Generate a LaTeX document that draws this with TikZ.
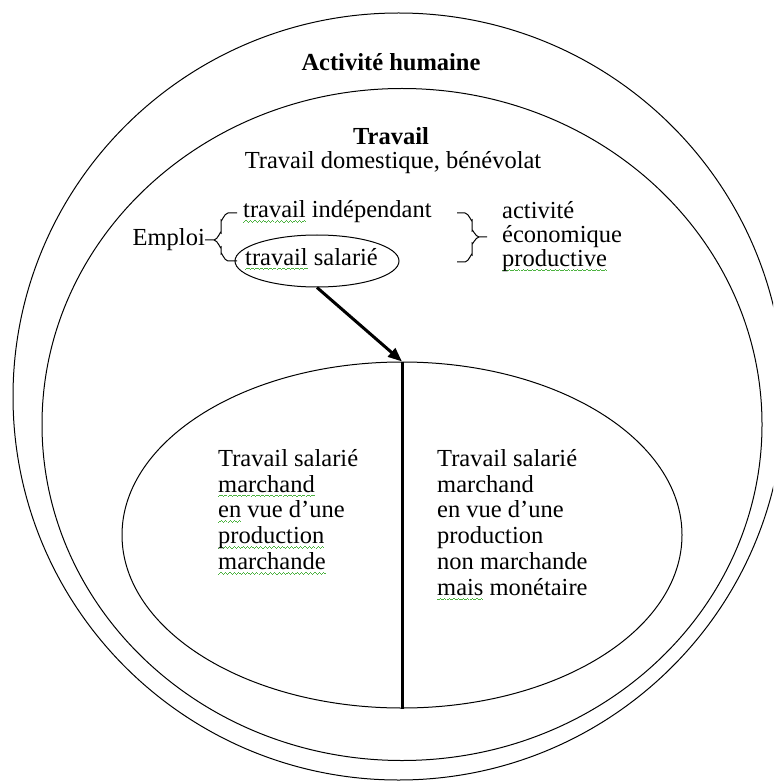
\documentclass[tikz,border=0pt]{standalone}
\usepackage{fontspec}
\setmainfont{Liberation Serif}
\usetikzlibrary{shapes.geometric,arrows.meta}
\definecolor{spellgreen}{rgb}{0.30,0.70,0.25}
\newsavebox\spellbox
\newcommand\spell[1]{\sbox\spellbox{#1}\rlap{\hbox to\wd\spellbox{\color{spellgreen}\xleaders\hbox{\rule[-5pt]{1.1pt}{.9pt}\rule[-4.2pt]{1.1pt}{.9pt}\rule[-3.4pt]{1.1pt}{.9pt}\rule[-4.2pt]{1.1pt}{.9pt}}\hfill}}\usebox\spellbox}
\tikzset{
	txt/.style={inner sep=0pt, font=\fontsize{24.5}{25.8}\selectfont},
	boldtxt/.style={inner sep=0pt, font=\fontsize{24.5}{25.8}\selectfont\bfseries},
	ring/.style={line width=1pt},
	thickline/.style={line width=3pt},
}

\begin{document}
\begin{tikzpicture}[x=1pt,y=-1pt]
				%%%%% START %%%%%
				\useasboundingbox (0,0) rectangle (773,783);
				\clip (0,0) rectangle (773,783);
				
				\draw[ring] (398.6,396.5) ellipse (385.6 and 383.5);
				\draw[ring] (402,424.5) ellipse (360 and 336);
				
				\node[boldtxt] (hum) at (391,62) {Activité humaine};
				\node[boldtxt] (trav) at (391,136) {Travail};
				\node[txt] (dom) at (393,163) {Travail domestique, bénévolat};
				
				\node[txt, anchor=east] (emp) at (205,240) {Emploi};
				\node[txt, anchor=west] (ind) at (243,212) {\spell{travail} indépendant};
				\node[draw, ring, ellipse, inner sep=0pt, minimum width=164pt, minimum height=52pt] (sal) at (317,261) {};
				\node[txt, anchor=west] (salt) at (245,259) {\spell{travail} salarié};
				
				\draw[ring] (237,213) -- (228,213) to[out=180,in=-90] (221,220) -- (221,233) to[out=90,in=0] (214,240) -- (205,240);
				\draw[ring] (214,240) to[out=0,in=-90] (221,247) -- (221,254) to[out=90,in=180] (228,261) -- (237,261);
				
				\draw[ring] (457,213) -- (465,213) to[out=0,in=-90] (472,220) -- (472,231) to[out=90,in=180] (479,237) -- (487,237);
				\draw[ring] (479,237) to[out=180,in=-90] (472,243) -- (472,255) to[out=90,in=0] (465,262) -- (457,262);
				
				\node[txt, anchor=north west, align=left, font=\fontsize{24.5}{24}\selectfont] (eco) at (502,201) {activité\\ économique\\ \spell{productive}};
				
				\node[draw, ring, ellipse, minimum width=560pt, minimum height=346pt] (prod) at (402,535) {};
				\draw[thickline, -{Triangle[length=14pt,width=11pt]}] (sal.south) -- (prod.north);
				\draw[thickline] (prod.north) -- (prod.south);
				
				\node[txt, anchor=north west, align=left] (march) at (218,449) {Travail salarié\\ \spell{marchand}\\ \spell{en} vue d’une\\ \spell{production}\\ \spell{marchande}};
				\node[txt, anchor=north west, align=left] (nonmarch) at (437,449) {Travail salarié\\ marchand\\ en vue d’une\\ production\\ non marchande\\ \spell{mais} monétaire};
				%%%%% END %%%%%
\end{tikzpicture}
\end{document}
